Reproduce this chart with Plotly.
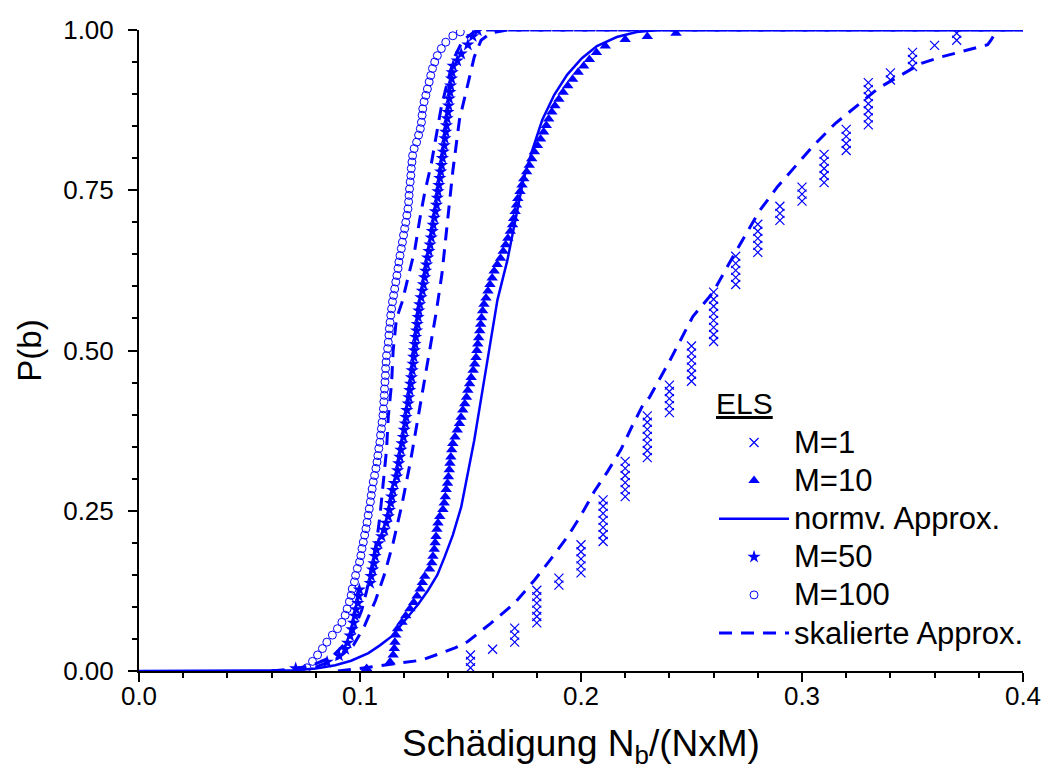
import plotly.graph_objects as go

# ---------------- data ----------------
# M=1 (discrete damage columns)
m1_x = ([0.15]*3 + [0.16] + [0.17]*3 + [0.18]*6 + [0.19]*2 + [0.20]*5 + [0.21]*7 + [0.22]*6 +
        [0.23]*7 + [0.24]*5 + [0.25]*6 + [0.26]*8 + [0.27]*5 + [0.28]*5 + [0.29]*3 + [0.30]*3 +
        [0.31]*5 + [0.32]*4 + [0.33]*7 + [0.34]*2 + [0.35]*3 + [0.36] + [0.37]*2)
m1_p = [0.005, 0.015, 0.025,
        0.034,
        0.045, 0.056, 0.067,
        0.075, 0.085, 0.095, 0.106, 0.116, 0.126,
        0.134, 0.145,
        0.153, 0.164, 0.175, 0.186, 0.197,
        0.202, 0.213, 0.224, 0.235, 0.246, 0.257, 0.267,
        0.272, 0.283, 0.294, 0.305, 0.316, 0.327,
        0.333, 0.344, 0.355, 0.366, 0.377, 0.388, 0.398,
        0.403, 0.414, 0.425, 0.436, 0.446,
        0.452, 0.463, 0.474, 0.485, 0.496, 0.507,
        0.514, 0.525, 0.536, 0.547, 0.558, 0.569, 0.580, 0.591,
        0.603, 0.614, 0.625, 0.636, 0.647,
        0.653, 0.664, 0.675, 0.686, 0.697,
        0.703, 0.714, 0.725,
        0.733, 0.744, 0.755,
        0.762, 0.773, 0.784, 0.795, 0.806,
        0.812, 0.823, 0.834, 0.845,
        0.852, 0.863, 0.874, 0.885, 0.896, 0.907, 0.918,
        0.922, 0.933,
        0.943, 0.954, 0.965,
        0.976,
        0.984, 0.995]

# M=10 (filled triangles)
m10_p = [0.004, 0.014, 0.025, 0.035, 0.045, 0.056, 0.066, 0.076, 0.086, 0.097,
         0.107, 0.117, 0.128, 0.138, 0.148, 0.159, 0.169, 0.179, 0.190, 0.200,
         0.210, 0.221, 0.231, 0.241, 0.252, 0.262, 0.272, 0.283, 0.293, 0.303,
         0.314, 0.324, 0.334, 0.345, 0.355, 0.365, 0.376, 0.386, 0.396, 0.407,
         0.417, 0.427, 0.438, 0.448, 0.458, 0.469, 0.479, 0.489, 0.500, 0.510,
         0.520, 0.531, 0.541, 0.551, 0.562, 0.572, 0.582, 0.593, 0.603, 0.613,
         0.624, 0.634, 0.644, 0.655, 0.665, 0.675, 0.686, 0.696, 0.706, 0.717,
         0.727, 0.737, 0.748, 0.758, 0.768, 0.779, 0.789, 0.799, 0.810, 0.820,
         0.830, 0.841, 0.851, 0.861, 0.872, 0.882, 0.892, 0.903, 0.913, 0.923,
         0.934, 0.944, 0.954, 0.965, 0.975, 0.985, 0.990, 0.995]
m10_x = [0.1030, 0.1136, 0.1150, 0.1155, 0.1158, 0.1162, 0.1170, 0.1190, 0.1207, 0.1226,
         0.1243, 0.1258, 0.1272, 0.1282, 0.1293, 0.1315, 0.1325, 0.1330, 0.1336, 0.1340,
         0.1344, 0.1348, 0.1353, 0.1361, 0.1375, 0.1381, 0.1386, 0.1390, 0.1396, 0.1400,
         0.1404, 0.1407, 0.1411, 0.1415, 0.1420, 0.1430, 0.1440, 0.1450, 0.1457, 0.1465,
         0.1474, 0.1482, 0.1488, 0.1496, 0.1503, 0.1512, 0.1519, 0.1525, 0.1529, 0.1533,
         0.1537, 0.1542, 0.1546, 0.1550, 0.1555, 0.1561, 0.1570, 0.1579, 0.1588, 0.1598,
         0.1607, 0.1621, 0.1636, 0.1648, 0.1659, 0.1669, 0.1680, 0.1690, 0.1695, 0.1702,
         0.1708, 0.1714, 0.1724, 0.1733, 0.1741, 0.1754, 0.1766, 0.1777, 0.1789, 0.1803,
         0.1817, 0.1831, 0.1843, 0.1854, 0.1868, 0.1882, 0.1900, 0.1919, 0.1940, 0.1962,
         0.1987, 0.2012, 0.2038, 0.2070, 0.2110, 0.2200, 0.2300, 0.2430]

# normal approximation (solid)
norm_x = [0.0, 0.06, 0.07, 0.08, 0.0888, 0.096, 0.1038, 0.109, 0.1143, 0.1218,
          0.1265, 0.1308, 0.135, 0.1383, 0.142, 0.1458, 0.149, 0.1517, 0.1548, 0.1578,
          0.1622, 0.1667, 0.1703, 0.1739, 0.178, 0.1825, 0.1879, 0.1937, 0.2004, 0.2072,
          0.2162, 0.2252, 0.235, 0.4]
norm_p = [0.0, 0.0, 0.001, 0.004, 0.009, 0.016, 0.028, 0.040, 0.054, 0.085,
          0.105, 0.126, 0.150, 0.178, 0.212, 0.256, 0.310, 0.360, 0.425, 0.490,
          0.579, 0.641, 0.704, 0.766, 0.813, 0.860, 0.899, 0.930, 0.956, 0.975,
          0.989, 0.997, 1.0, 1.0]

# M=50 (stars)
m50_p = [0.004, 0.014, 0.024, 0.034, 0.044, 0.055, 0.065, 0.075, 0.086, 0.096,
         0.106, 0.117, 0.127, 0.137, 0.148, 0.158, 0.168, 0.179, 0.189, 0.199,
         0.210, 0.220, 0.231, 0.241, 0.251, 0.262, 0.272, 0.282, 0.293, 0.303,
         0.313, 0.324, 0.334, 0.345, 0.355, 0.365, 0.376, 0.386, 0.396, 0.407,
         0.417, 0.427, 0.438, 0.448, 0.458, 0.469, 0.479, 0.490, 0.500, 0.510,
         0.521, 0.531, 0.541, 0.552, 0.562, 0.572, 0.583, 0.593, 0.603, 0.614,
         0.624, 0.634, 0.645, 0.655, 0.665, 0.676, 0.686, 0.696, 0.707, 0.717,
         0.727, 0.738, 0.748, 0.758, 0.769, 0.779, 0.789, 0.800, 0.810, 0.820,
         0.831, 0.841, 0.851, 0.862, 0.872, 0.882, 0.893, 0.903, 0.913, 0.924,
         0.934, 0.944, 0.952, 0.963, 0.977, 0.990, 0.999]
m50_x = [0.0709, 0.0851, 0.0905, 0.0933, 0.0944, 0.0955, 0.0964, 0.0971, 0.0977, 0.0982,
         0.0990, 0.0994, 0.0997, 0.1046, 0.1050, 0.1057, 0.1063, 0.1068, 0.1074, 0.1083,
         0.1098, 0.1110, 0.1118, 0.1128, 0.1133, 0.1139, 0.1143, 0.1148, 0.1155, 0.1166,
         0.1170, 0.1175, 0.1180, 0.1185, 0.1190, 0.1196, 0.1200, 0.1205, 0.1208, 0.1212,
         0.1218, 0.1221, 0.1225, 0.1229, 0.1233, 0.1236, 0.1240, 0.1243, 0.1246, 0.1249,
         0.1252, 0.1256, 0.1259, 0.1263, 0.1266, 0.1270, 0.1276, 0.1282, 0.1287, 0.1292,
         0.1297, 0.1301, 0.1306, 0.1312, 0.1317, 0.1322, 0.1327, 0.1331, 0.1336, 0.1341,
         0.1346, 0.1350, 0.1353, 0.1357, 0.1361, 0.1365, 0.1369, 0.1373, 0.1377, 0.1381,
         0.1384, 0.1388, 0.1391, 0.1394, 0.1398, 0.1401, 0.1404, 0.1407, 0.1410, 0.1414,
         0.1417, 0.1421, 0.1440, 0.1458, 0.1488, 0.1510, 0.1533]

# M=100 (open circles)
m100_p = [0.005, 0.015, 0.025, 0.035, 0.045, 0.056, 0.066, 0.076, 0.087, 0.097,
          0.108, 0.118, 0.128, 0.139, 0.149, 0.160, 0.170, 0.180, 0.191, 0.201,
          0.212, 0.222, 0.232, 0.243, 0.253, 0.264, 0.274, 0.284, 0.295, 0.305,
          0.316, 0.326, 0.336, 0.347, 0.357, 0.368, 0.378, 0.388, 0.399, 0.409,
          0.420, 0.430, 0.440, 0.451, 0.461, 0.472, 0.482, 0.492, 0.503, 0.513,
          0.524, 0.534, 0.544, 0.555, 0.565, 0.576, 0.586, 0.596, 0.607, 0.617,
          0.628, 0.638, 0.648, 0.659, 0.669, 0.680, 0.690, 0.700, 0.711, 0.721,
          0.732, 0.742, 0.752, 0.763, 0.773, 0.784, 0.794, 0.804, 0.815, 0.825,
          0.836, 0.846, 0.856, 0.867, 0.877, 0.888, 0.898, 0.908, 0.919, 0.929,
          0.940, 0.950, 0.960, 0.971, 0.981, 0.991, 0.997]
m100_x = [0.0760, 0.0785, 0.0808, 0.0830, 0.0850, 0.0875, 0.0898, 0.0918, 0.0933, 0.0942,
          0.0952, 0.0960, 0.0965, 0.0975, 0.0980, 0.0988, 0.0998, 0.1004, 0.1009, 0.1015,
          0.1021, 0.1027, 0.1032, 0.1037, 0.1042, 0.1047, 0.1051, 0.1055, 0.1060, 0.1066,
          0.1072, 0.1077, 0.1081, 0.1085, 0.1090, 0.1093, 0.1097, 0.1100, 0.1104, 0.1106,
          0.1108, 0.1110, 0.1111, 0.1113, 0.1115, 0.1116, 0.1118, 0.1120, 0.1125, 0.1128,
          0.1131, 0.1133, 0.1136, 0.1139, 0.1143, 0.1147, 0.1152, 0.1157, 0.1162, 0.1167,
          0.1172, 0.1176, 0.1181, 0.1187, 0.1192, 0.1197, 0.1202, 0.1207, 0.1212, 0.1217,
          0.1220, 0.1222, 0.1224, 0.1227, 0.1230, 0.1232, 0.1235, 0.1238, 0.1245, 0.1256,
          0.1265, 0.1273, 0.1278, 0.1281, 0.1284, 0.1290, 0.1298, 0.1305, 0.1313, 0.1320,
          0.1328, 0.1338, 0.1350, 0.1368, 0.1388, 0.1420, 0.1454]

# scaled approximations (dashed)
sa100_x = [0.06, 0.0709, 0.0783, 0.0873, 0.0933, 0.0978, 0.1008, 0.1031, 0.1053, 0.1076,
           0.109, 0.1106, 0.112, 0.1128, 0.1143, 0.115, 0.1165, 0.119, 0.1218, 0.1248,
           0.127, 0.1292, 0.1323, 0.1345, 0.1368, 0.1398, 0.1428, 0.1465, 0.1517, 0.156, 0.4]
sa100_p = [0.0, 0.004, 0.009, 0.022, 0.043, 0.069, 0.095, 0.126, 0.163, 0.204,
           0.241, 0.293, 0.345, 0.397, 0.449, 0.500, 0.550, 0.575, 0.615, 0.657,
           0.704, 0.745, 0.792, 0.834, 0.880, 0.922, 0.958, 0.984, 0.997, 1.0, 1.0]
sa50_x = [0.06, 0.07, 0.08, 0.09, 0.097, 0.102, 0.107, 0.111, 0.115, 0.119,
          0.123, 0.127, 0.131, 0.1345, 0.1371, 0.1395, 0.142, 0.145, 0.1472, 0.1495,
          0.1517, 0.1548, 0.159, 0.1667, 0.4]
sa50_p = [0.0, 0.001, 0.006, 0.020, 0.040, 0.070, 0.110, 0.150, 0.200, 0.260,
          0.330, 0.410, 0.490, 0.560, 0.620, 0.700, 0.780, 0.860, 0.891, 0.927,
          0.958, 0.984, 0.995, 1.0, 1.0]
sa1_x = [0.09, 0.1023, 0.128, 0.143, 0.1488, 0.159, 0.170, 0.179, 0.186, 0.194,
         0.200, 0.206, 0.212, 0.218, 0.223, 0.228, 0.231, 0.240, 0.2506, 0.2596,
         0.270, 0.2806, 0.289, 0.297, 0.3053, 0.315, 0.324, 0.3345, 0.3435, 0.354,
         0.363, 0.375, 0.384, 0.3855, 0.3865]
sa1_p = [0.0, 0.005, 0.017, 0.036, 0.046, 0.074, 0.106, 0.142, 0.173, 0.210,
         0.243, 0.280, 0.311, 0.345, 0.381, 0.415, 0.427, 0.483, 0.553, 0.590,
         0.654, 0.717, 0.756, 0.787, 0.820, 0.854, 0.880, 0.909, 0.927, 0.948,
         0.958, 0.969, 0.977, 0.984, 0.990]

x_ticks = [0.0, 0.1, 0.2, 0.3, 0.4]
y_ticks = [0.0, 0.25, 0.5, 0.75, 1.0]

# ---------------- figure ----------------
BLUE = "#0000ff"
FONT = "Liberation Sans, Arial, sans-serif"
NARROW = "Liberation Sans Narrow, Arial Narrow, Liberation Sans, Arial, sans-serif"
DASH = "13px,9px"


def big(name):
    # legend text a little larger than the row pitch font
    return f"<span style='font-size:31px'>{name}</span>"


fig = go.Figure()

for xs, ps in ((sa1_x, sa1_p), (sa50_x, sa50_p), (sa100_x, sa100_p)):
    fig.add_trace(go.Scatter(x=xs, y=ps, mode="lines", showlegend=False, hoverinfo="skip",
                             line=dict(color=BLUE, width=3, dash=DASH)))

fig.add_trace(go.Scatter(x=m1_x, y=m1_p, mode="markers", name=big("M=1"),
                         marker=dict(symbol="x-thin-open", size=9, color=BLUE,
                                     line=dict(color=BLUE, width=1.2))))
fig.add_trace(go.Scatter(x=m10_x, y=m10_p, mode="markers", name=big("M=10"),
                         marker=dict(symbol="triangle-up", size=10, color=BLUE,
                                     line=dict(width=0))))
fig.add_trace(go.Scatter(x=norm_x, y=norm_p, mode="lines", name=big("normv. Approx."),
                         line=dict(color=BLUE, width=2.5)))
fig.add_trace(go.Scatter(x=m50_x, y=m50_p, mode="markers", name=big("M=50"),
                         marker=dict(symbol="star", size=10, color=BLUE,
                                     line=dict(width=0))))
fig.add_trace(go.Scatter(x=m100_x, y=m100_p, mode="markers", name=big("M=100"),
                         marker=dict(symbol="circle-open", size=8, color=BLUE,
                                     line=dict(color=BLUE, width=1))))
fig.add_trace(go.Scatter(x=[None], y=[None], mode="lines", name=big("skalierte Approx."),
                         line=dict(color=BLUE, width=3, dash=DASH)))

fig.update_layout(
    width=1053, height=776,
    margin=dict(l=139, r=20, t=30, b=105),
    paper_bgcolor="white", plot_bgcolor="white",
    font=dict(family=FONT, color="black"),
    legend=dict(
        x=0.6505, y=0.394, xanchor="left", yanchor="top",
        font=dict(size=27, family=FONT), itemwidth=70,
        bgcolor="rgba(0,0,0,0)", tracegroupgap=0,
    ),
    annotations=[dict(text="<u>ELS</u>", x=0.6505, y=0.417, xref="paper", yref="paper",
                      xanchor="left", yanchor="middle", showarrow=False,
                      font=dict(size=30, family=FONT, color="black"))],
)

fig.update_xaxes(
    range=[0, 0.4], tickvals=x_ticks, ticktext=[f"{v:.1f}" for v in x_ticks],
    showgrid=False, zeroline=False, showline=True, linecolor="black", linewidth=2,
    ticks="outside", ticklen=9, tickwidth=2, tickcolor="black",
    tickfont=dict(size=26, family=NARROW), ticklabelstandoff=-8, ticklabeloverflow="allow",
    minor=dict(dtick=0.02, tick0=0, ticks="outside", ticklen=5, tickwidth=1.5, tickcolor="black"),
    title=dict(text="Schädigung N<sub>b</sub>/(NxM)", font=dict(size=37, family=NARROW), standoff=20),
)
fig.update_yaxes(
    range=[0, 1], tickvals=y_ticks, ticktext=[f"{v:.2f}" for v in y_ticks],
    showgrid=False, zeroline=False, showline=True, linecolor="black", linewidth=2,
    ticks="outside", ticklen=9, tickwidth=2, tickcolor="black",
    tickfont=dict(size=26, family=FONT), ticklabelstandoff=9,
    minor=dict(dtick=0.05, tick0=0, ticks="outside", ticklen=5, tickwidth=1.5, tickcolor="black"),
    title=dict(text="P(b)", font=dict(size=33, family=FONT), standoff=12),
)

# remove the default 8px page margin so the figure fills the window exactly
fig.write_html("out.html", config={"displayModeBar": False},
               post_script="document.body.style.margin='0';document.body.style.overflow='hidden';")
